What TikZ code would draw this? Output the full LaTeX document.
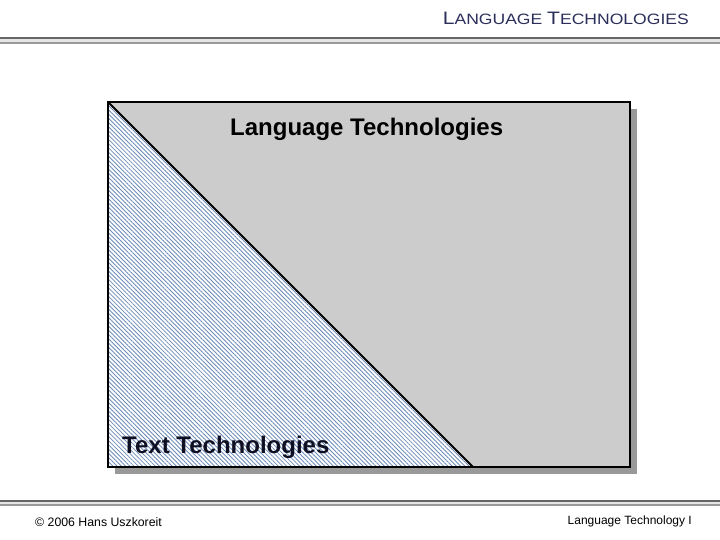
\documentclass[tikz,border=0pt]{standalone}
\usepackage{fontspec}
\usepackage{graphicx}
\setmainfont{Liberation Sans}
\usetikzlibrary{patterns.meta}
\definecolor{navy}{RGB}{43,47,90}
\definecolor{boxgray}{RGB}{204,204,204}
\definecolor{shadowgray}{RGB}{153,153,153}
\definecolor{hatchblue}{RGB}{110,140,185}
\tikzset{
  bigtext/.style={font=\fontsize{24}{28}\selectfont\bfseries, anchor=base west, inner sep=0pt},
  foot/.style={font=\fontsize{12.3}{14}\selectfont, anchor=base west, inner sep=0pt},
}
\begin{document}
\begin{tikzpicture}[x=1pt,y=-1pt]
\useasboundingbox (0,0) rectangle (720,540);
\fill[white] (0,0) rectangle (720,540);
% header rules
\fill[gray!80!black] (0,37) rectangle (720,39);
\fill[gray!20] (0,39) rectangle (720,42);
\fill[shadowgray] (0,42) rectangle (720,44);
% footer rules
\fill[gray!80!black] (0,499.5) rectangle (720,501.5);
\fill[gray!20] (0,501.5) rectangle (720,503.5);
\fill[shadowgray] (0,503.5) rectangle (720,505.5);
% header title
\node[anchor=base east, inner sep=0pt, text=navy] (title) at (689,25)
  {\scalebox{1.17}[1]{\fontsize{18}{20}\selectfont L\fontsize{15}{20}\selectfont ANGUAGE \fontsize{18}{20}\selectfont T\fontsize{15}{20}\selectfont ECHNOLOGIES}};
% box
\coordinate (tl) at (108,102);
\coordinate (br) at (630,467);
\coordinate (bm) at (473,467);
\coordinate (bl) at (108,467);
\fill[shadowgray] (115,109) rectangle (637,474);
\fill[boxgray] (tl) rectangle (br);
\fill[white] (tl) -- (bm) -- (bl) -- cycle;
\fill[pattern={Lines[angle=-45,distance=3pt,line width=0.85pt]}, pattern color=hatchblue] (tl) -- (bm) -- (bl) -- cycle;
\draw[line width=2pt] (tl) rectangle (br);
\draw[line width=2pt] (tl) -- (bm);
% labels
\node[bigtext] (lt) at (230,136) {Language Technologies};
\node[bigtext, text={rgb,255:red,15;green,15;blue,35}] (tt) at (122,453) {Text Technologies};
% footer
\node[foot] (copy) at (35,526) {© 2006 Hans Uszkoreit};
\node[foot, anchor=base east, font=\fontsize{12}{14}\selectfont] (lt1) at (692,524) {Language Technology I};
\end{tikzpicture}
\end{document}
